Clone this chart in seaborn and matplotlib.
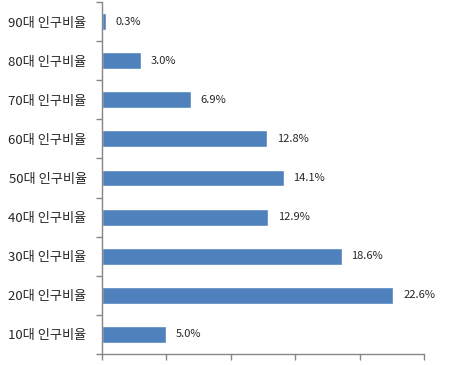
import matplotlib
matplotlib.use("Agg")
import matplotlib.pyplot as plt
import seaborn as sns
import pandas as pd
import numpy as np

categories = ["90대 인구비율", "80대 인구비율", "70대 인구비율", "60대 인구비율", "50대 인구비율",
              "40대 인구비율", "30대 인구비율", "20대 인구비율", "10대 인구비율"]
values = [0.3, 3.0, 6.9, 12.8, 14.1, 12.9, 18.6, 22.6, 5.0]
labels = ["0.3%", "3.0%", "6.9%", "12.8%", "14.1%", "12.9%", "18.6%", "22.6%", "5.0%"]

sns.set_style("white")
plt.rcParams['font.family'] = ['Noto Sans CJK KR', 'DejaVu Sans']

df = pd.DataFrame({"cat": categories, "val": values})

fig = plt.figure(figsize=(4.57, 3.65), dpi=100)
ax = fig.add_axes([0.2232, 0.0301, 0.9285 - 0.2232, 0.9945 - 0.0301])
sns.barplot(data=df, x="val", y="cat", orient="h", color="#4F81BD", saturation=1,
            width=0.43, ax=ax, order=categories)

ax.set_xlim(0, 25)
ax.set_ylim(len(categories) - 0.5, -0.5)
ax.set_xticks([0, 5, 10, 15, 20, 25])
ax.set_xticklabels([])
ax.set_xlabel("")
ax.set_ylabel("")

ax.set_yticks(range(len(categories)))
ax.set_yticklabels(categories, fontsize=9.5)
ax.tick_params(axis="y", which="major", length=0, pad=11)
ax.set_yticks(np.arange(-0.5, len(categories), 1.0), minor=True)
ax.tick_params(axis="y", which="minor", length=4, color="#868686", width=1, direction="out", left=True)
ax.tick_params(axis="x", which="major", length=4, color="#868686", width=1, direction="out", bottom=True)

for s in ["top", "right"]:
    ax.spines[s].set_visible(False)
for s in ["left", "bottom"]:
    ax.spines[s].set_color("#868686")
    ax.spines[s].set_linewidth(1)

for i, (v, lab) in enumerate(zip(values, labels)):
    ax.annotate(lab, xy=(v, i), xytext=(7, 0), textcoords="offset points",
                va="center", ha="left", fontsize=8)

fig.savefig("out.png", dpi=100)
